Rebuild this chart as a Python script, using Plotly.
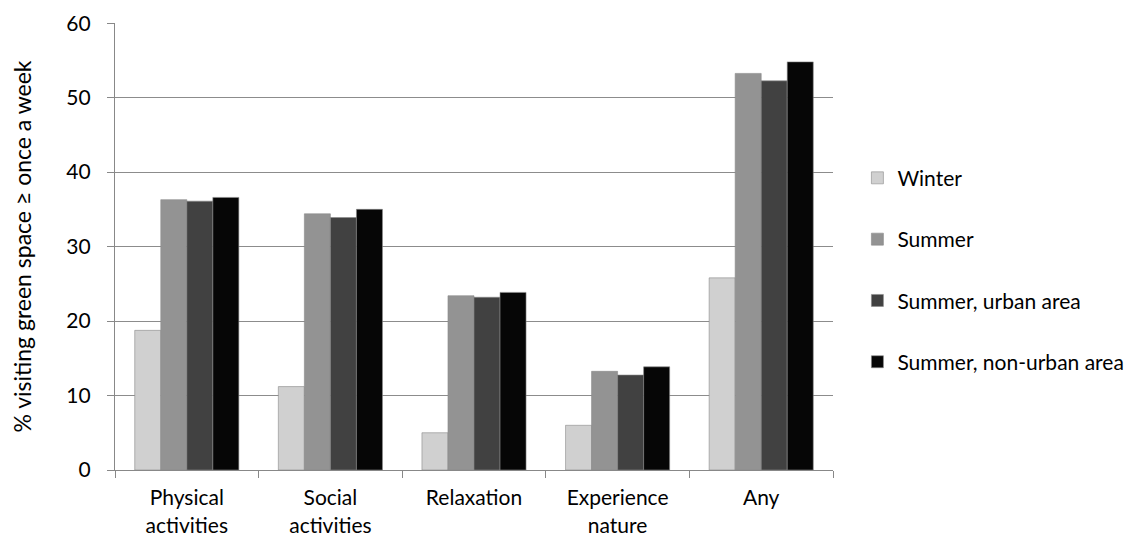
import plotly.graph_objects as go

categories = ["Physical<br>activities", "Social<br>activities", "Relaxation", "Experience<br>nature", "Any"]
series_names = ["Winter", "Summer", "Summer, urban area", "Summer, non-urban area"]
winter = [18.75, 11.2, 5.0, 6.0, 25.8]
summer = [36.3, 34.4, 23.4, 13.25, 53.25]
summer_urban = [36.1, 33.9, 23.2, 12.75, 52.25]
summer_nonurban = [36.6, 35.0, 23.85, 13.85, 54.8]
y_ticks = [0, 10, 20, 30, 40, 50, 60]

colors = ["#d0d0d0", "#939393", "#414141", "#060606"]
values = [winter, summer, summer_urban, summer_nonurban]

fig = go.Figure()
for name, vals, col in zip(series_names, values, colors):
    fig.add_trace(go.Bar(
        x=categories, y=vals, name=name, legendgroup=name,
        marker=dict(color=col, line=dict(color="#8a8a8a", width=0.6)),
    ))

FONT = "Lato, Open Sans, sans-serif"
fig.update_layout(
    width=1133, height=536,
    margin=dict(l=107, r=308, t=15, b=74, autoexpand=False),
    paper_bgcolor="white", plot_bgcolor="white",
    barmode="group", bargap=0.275, bargroupgap=0,
    font=dict(family=FONT, size=21, color="#000000"),
    legend=dict(x=1.034, y=0.447, xanchor="left", yanchor="middle",
                font=dict(size=21), tracegroupgap=31, itemwidth=30,
                bgcolor="rgba(0,0,0,0)"),
    showlegend=True,
)
fig.update_xaxes(
    showline=True, linecolor="#888888", linewidth=1.3,
    ticks="outside", tickson="boundaries", ticklen=7, tickcolor="#888888", tickwidth=1.3,
    tickfont=dict(size=21), showgrid=False, ticklabelstandoff=9, automargin=False,
)
fig.update_yaxes(
    range=[0, 60.02], tickvals=y_ticks,
    showline=True, linecolor="#888888", linewidth=1.3,
    ticks="outside", ticklen=7, tickcolor="#888888", tickwidth=1.3,
    showgrid=True, gridcolor="#8c8c8c", gridwidth=1.3,
    tickfont=dict(size=21), zeroline=False, ticklabelstandoff=12, automargin=False,
    title=dict(text="% visiting green space ≥ once a week", font=dict(size=23), standoff=32),
)
fig.write_html("out.html")
